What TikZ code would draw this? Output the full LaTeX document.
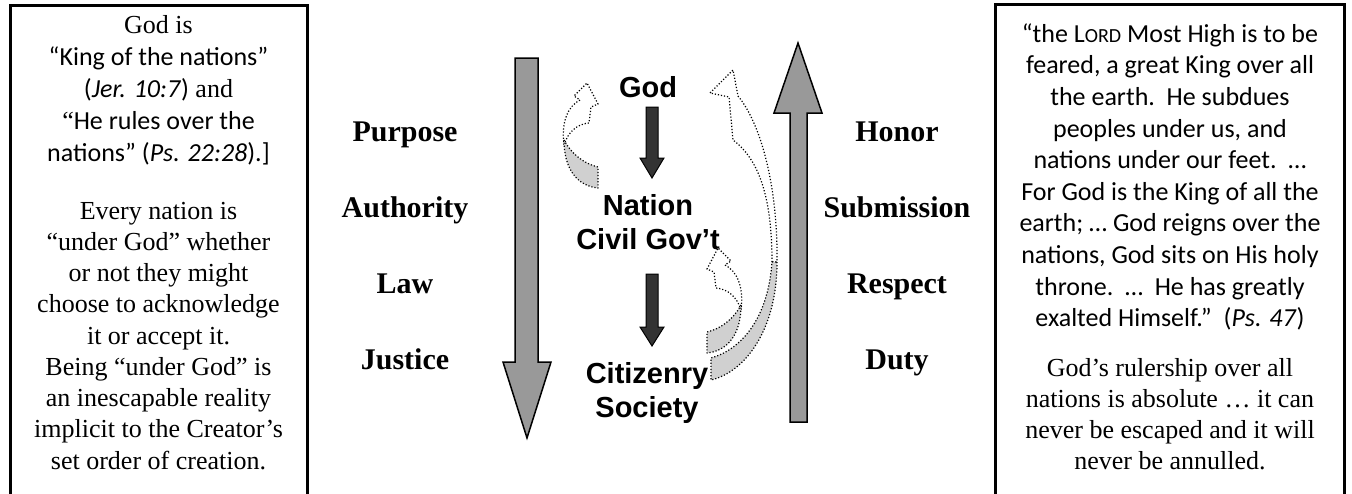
\documentclass[tikz,border=0pt]{standalone}
\usepackage{fontspec}
\setmainfont{Liberation Serif}
\newfontfamily\calibri{Carlito}
\newfontfamily\arialfont{Liberation Sans}
\usetikzlibrary{positioning}
\definecolor{arrowgray}{HTML}{999999}
\definecolor{arrowdark}{HTML}{333333}
\definecolor{ribbongray}{HTML}{D0D0D0}

\tikzset{
    quotebox/.style={draw=black, line width=3pt},
    quotetext/.style={align=center, anchor=north, inner sep=0pt},
    bigarrow/.style={draw=black, line width=1.5pt, fill=arrowgray, line join=miter},
    darkarrow/.style={draw=black, line width=1pt, fill=arrowdark},
    ribbon/.style={draw=black, line width=1.2pt, dash pattern=on 1.2pt off 1.9pt, line join=round},
    sidelabel/.style={font=\bfseries\fontsize{30}{34}\selectfont, anchor=base, inner sep=0pt},
    levellabel/.style={font=\arialfont\bfseries\fontsize{29}{33}\selectfont, anchor=base, inner sep=0pt}
}

\begin{document}
\begin{tikzpicture}[x=1pt,y=-1pt]
    \useasboundingbox[fill=white] (0,0) rectangle (1352,493);

    % quote boxes, open at the bottom
    \draw[quotebox] (10,496) -- (10,5) -- (307,5) -- (307,496);
    \draw[quotebox] (995,496) -- (995,4) -- (1344,4) -- (1344,496);

    \node[quotetext, font=\fontsize{26}{32}\selectfont] (leftverse) at (158.5,10.6) {%
        \strut God is\\
        {\calibri “King of the nations”}\\
        {\calibri (\textit{Jer. 10:7})} and\\
        “{\calibri He rules over the}\\
        {\calibri nations” (\textit{Ps. 22:28}).]}};
    \node[quotetext, font=\fontsize{26}{31.25}\selectfont] (leftnote) at (158.5,197.1) {%
        \strut Every nation is\\
        “under God” whether\\
        or not they might\\
        choose to acknowledge\\
        it or accept it.\\
        Being “under God” is\\
        an inescapable reality\\
        implicit to the Creator’s\\
        set order of creation.};

    \node[quotetext, font=\calibri\fontsize{26}{31.6}\selectfont] (rightverse) at (1170,19.9) {%
        \strut “the L{\fontsize{20}{20}\selectfont ORD} Most High is to be\\
        feared, a great King over all\\
        the earth.\ \ He subdues\\
        peoples under us, and\\
        nations under our feet.\ \ …\\
        For God is the King of all the\\
        earth; … God reigns over the\\
        nations, God sits on His holy\\
        throne.\ \ …\ \ He has greatly\\
        exalted Himself.”\ \ (\textit{Ps. 47})};
    \node[quotetext, font=\fontsize{26}{31}\selectfont] (rightnote) at (1170,354.3) {%
        \strut God’s rulership over all\\
        nations is absolute … it can\\
        never be escaped and it will\\
        never be annulled.};

    % downward flow
    \draw[bigarrow] (515,58) -- (538,58) -- (538,362) -- (551,362) -- (527,438) -- (503,362) -- (515,362) -- cycle;
    \node[sidelabel] (purpose) at (405,141) {Purpose};
    \node[sidelabel] (authority) at (405,217) {Authority};
    \node[sidelabel] (law) at (405,293) {Law};
    \node[sidelabel] (justice) at (405,369) {Justice};

    % upward flow
    \draw[bigarrow] (790,422) -- (807,422) -- (807,113) -- (822,113) -- (798,43) -- (774,113) -- (790,113) -- cycle;
    \node[sidelabel] (honor) at (897,141) {Honor};
    \node[sidelabel] (submission) at (897,217) {Submission};
    \node[sidelabel] (respect) at (897,293) {Respect};
    \node[sidelabel] (duty) at (897,369) {Duty};

    % levels
    \node[levellabel] (god) at (648,97) {God};
    \node[levellabel] (nation) at (648,215) {Nation};
    \node[levellabel] (civilgov) at (648,249) {Civil Gov’t};
    \node[levellabel] (citizenry) at (647,383) {Citizenry};
    \node[levellabel] (society) at (647,417) {Society};

    \draw[darkarrow] (646,107) -- (658,107) -- (658,158) -- (664,158) -- (652,178) -- (640,158) -- (646,158) -- cycle;
    \draw[darkarrow] (646,274) -- (658,274) -- (658,327) -- (664,327) -- (652,346) -- (640,327) -- (646,327) -- cycle;

    % twisted return arrows
    \draw[ribbon, fill=white] (564,145) .. controls (561,122) and (568,106) .. (580,100) -- (574,96) -- (587,83)
        -- (598,104) -- (591,107) -- (589,123) .. controls (577,124) and (568,132) .. (564,145) -- cycle;
    \draw[ribbon, fill=ribbongray] (564,140) .. controls (572,155) and (585,164) .. (598,167) -- (598,188)
        .. controls (578,186) and (564,170) .. (564,140) -- cycle;

    \draw[ribbon, fill=white] (741,310) .. controls (744,287) and (737,271) .. (725,265) -- (731,261) -- (718,248)
        -- (707,269) -- (714,272) -- (716,288) .. controls (728,289) and (737,297) .. (741,310) -- cycle;
    \draw[ribbon, fill=ribbongray] (741,305) .. controls (733,320) and (720,329) .. (707,332) -- (707,353)
        .. controls (727,351) and (741,335) .. (741,305) -- cycle;

    \draw[ribbon, fill=white] (772,262) .. controls (772,200) and (760,160) .. (733,140) -- (729,97) -- (710,93)
        -- (733,70) -- (738,96) .. controls (762,125) and (778,190) .. (777,262) -- cycle;
    \draw[ribbon, fill=ribbongray] (777,262) .. controls (777,330) and (745,372) .. (711,380) -- (711,358)
        .. controls (740,350) and (768,320) .. (772,262) -- cycle;
\end{tikzpicture}
\end{document}
